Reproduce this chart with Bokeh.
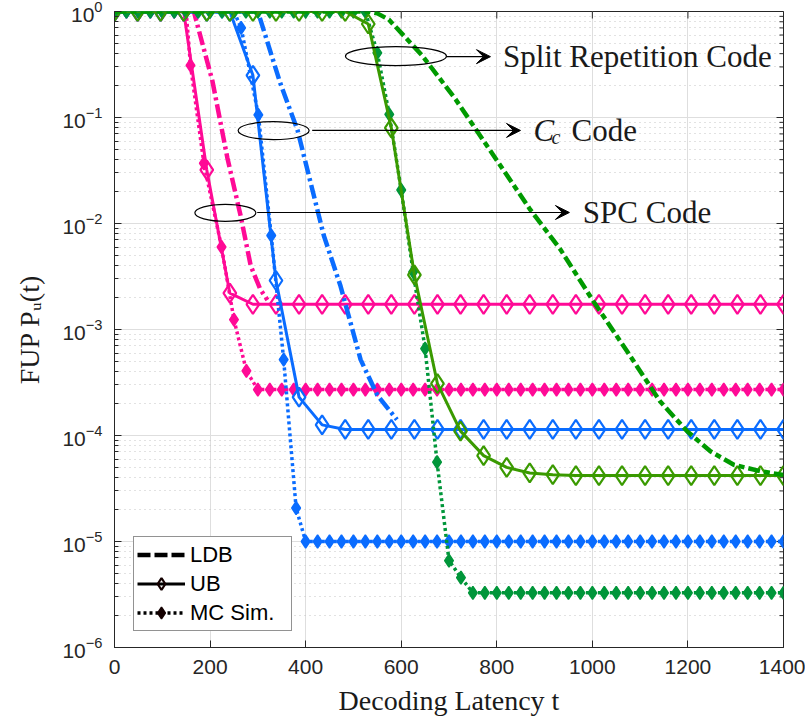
import numpy as np
from bokeh.plotting import figure
from bokeh.models import (Range1d, FixedTicker, LogTickFormatter,
                          Arrow, VeeHead, Legend, LegendItem)
from bokeh.core.properties import value
from bokeh.embed import file_html
from bokeh.resources import INLINE

# ---------------- data ----------------
# Upper bound (UB): evaluated on 30 latency points between 0 and 1400
ub_t = np.linspace(0, 1400, 30)
pink_ub = [1.0] * 4 + [0.032, 2.2e-3] + [1.73e-3] * 24
blue_ub = [1.0] * 6 + [0.25, 2.9e-3, 2.3e-4, 1.26e-4] + [1.14e-4] * 20
green_ub = ([1.0] * 11
            + [0.762, 0.0798, 3.27e-3, 3.08e-4, 1.10e-4, 6.46e-5, 5.0e-5, 4.43e-5, 4.27e-5]
            + [4.19e-5] * 10)

# Monte Carlo simulation (MC Sim.)
pink_mc_t = [0, 25, 50, 75, 100, 125, 150, 159, 187, 224, 250, 276] + list(range(300, 1401, 25))
pink_mc = [1.0] * 7 + [0.31, 0.037, 6.0e-3, 1.24e-3, 4.07e-4] + [2.71e-4] * 45
blue_mc_t = list(range(0, 251, 25)) + [265, 301, 328, 354, 380] + list(range(400, 1401, 25))
blue_mc = [1.0] * 11 + [0.70, 0.106, 7.7e-3, 5.2e-4, 2.07e-5] + [1.0e-5] * 41
green_mc_t = list(range(0, 1401, 25))
green_mc = ([1.0] * 22
            + [0.407, 0.107, 0.0207, 3.5e-3, 6.6e-4, 5.6e-5, 6.6e-6, 4.57e-6]
            + [3.28e-6] * 27)

# Lower decoding bound (LDB)
pink_ldb_t = [0, 166, 205, 236, 264, 285, 305, 320]
pink_ldb = [1.0, 1.0, 0.22, 0.042, 0.0118, 4.0e-3, 2.4e-3, 1.9e-3]
blue_ldb_t = [0, 300, 347, 383, 438, 473, 515, 550, 591]
blue_ldb = [1.0, 1.0, 0.21, 0.076, 7.7e-3, 2.57e-3, 5.2e-4, 2.4e-4, 1.41e-4]
green_ldb_t = [0, 530, 550, 574, 644, 714, 773, 870, 933, 1003, 1073, 1142, 1198,
               1247, 1296, 1352, 1400]
green_ldb = [1.0, 1.0, 0.96, 0.84, 0.384, 0.148, 0.0598, 0.0135, 5.7e-3, 1.82e-3,
             6.2e-4, 2.09e-4, 1.1e-4, 7.1e-5, 5.3e-5, 4.6e-5, 4.25e-5]

x_ticks = [0, 200, 400, 600, 800, 1000, 1200, 1400]
y_ticks = [1e-6, 1e-5, 1e-4, 1e-3, 1e-2, 1e-1, 1.0]
y_minor = [m * 10.0 ** e for e in range(-6, 0) for m in range(2, 10)]

# ---------------- styles ----------------
PINK = "#ff0a96"
BLUE = "#0a6cff"
GREEN_UB = "#3a9a00"
GREEN_LDB = "#009a00"
GREEN_MC = "#00963a"
AX = "#262626"

p = figure(width=805, height=727, x_range=Range1d(0, 1400), y_range=Range1d(1e-6, 1.0),
           y_axis_type="log", output_backend="svg", toolbar_location=None,
           min_border_left=114, min_border_right=22, min_border_top=11, min_border_bottom=80)
p.outline_line_color = AX
p.outline_line_width = 1
p.background_fill_color = "white"
p.border_fill_color = "white"

# bottom / left axes
xa = p.xaxis[0]
ya = p.yaxis[0]
xa.ticker = FixedTicker(ticks=x_ticks)
ya.ticker = FixedTicker(ticks=y_ticks, minor_ticks=y_minor)
ya.formatter = LogTickFormatter()
for ax in (xa, ya):
    ax.axis_line_color = AX
    ax.major_tick_line_color = AX
    ax.minor_tick_line_color = AX
    ax.major_tick_in = 7
    ax.major_tick_out = 0
    ax.minor_tick_in = 4
    ax.minor_tick_out = 0
    ax.major_label_text_font = "Liberation Sans"
    ax.major_label_text_font_size = "21px"
    ax.major_label_text_color = AX
    ax.axis_label_text_font = "Liberation Serif"
    ax.axis_label_text_font_size = "28px"
    ax.axis_label_text_font_style = "normal"
    ax.axis_label_text_color = "#1a1a1a"
xa.minor_tick_line_color = None
xa.major_label_standoff = 12
ya.major_label_standoff = 12
xa.axis_label = "Decoding Latency t"
ya.axis_label = "FUP P\u1d64(t)"
xa.axis_label_standoff = 8
ya.axis_label_standoff = 14

# inward tick marks on the top and right edges of the box
p.scatter(x_ticks, [1.0] * len(x_ticks), marker="dash", angle=np.pi / 2, size=14,
          line_color=AX, line_width=1)
p.scatter([1400] * len(y_ticks), y_ticks, marker="dash", size=14, line_color=AX, line_width=1)
p.scatter([1400] * len(y_minor), y_minor, marker="dash", size=8, line_color=AX, line_width=1)

# grid
p.xgrid.ticker = FixedTicker(ticks=x_ticks)
p.xgrid.grid_line_color = "#dedede"
p.ygrid.ticker = FixedTicker(ticks=y_ticks, minor_ticks=y_minor)
p.ygrid.grid_line_color = "#dedede"
p.ygrid.minor_grid_line_color = "#c4c4c4"
p.ygrid.minor_grid_line_dash = "1 4"

# ---------------- curves ----------------
def draw_family(color_mc, color_ub, color_ldb, mc_t, mc, ub, ldb_t, ldb, ldb_dash):
    p.line(mc_t, mc, line_color=color_mc, line_width=3.5, line_dash="3 3")
    p.scatter(mc_t, mc, marker="diamond", size=13, fill_color=color_mc,
              line_color=color_mc, line_width=1.5)
    p.line(ub_t, ub, line_color=color_ub, line_width=3)
    p.scatter(ub_t, ub, marker="diamond", size=19, fill_color=None,
              line_color=color_ub, line_width=2.2)
    p.line(ldb_t, ldb, line_color=color_ldb, line_width=4.5, line_dash=ldb_dash)

draw_family(PINK, PINK, PINK, pink_mc_t, pink_mc, pink_ub, pink_ldb_t, pink_ldb, "14 4 3 4")
draw_family(BLUE, BLUE, BLUE, blue_mc_t, blue_mc, blue_ub, blue_ldb_t, blue_ldb, "14 4 3 4")
draw_family(GREEN_MC, GREEN_UB, GREEN_LDB, green_mc_t, green_mc, green_ub,
            green_ldb_t, green_ldb, "12 4 6 4")

# ---------------- code annotations ----------------
p.ellipse(x=[589, 333, 232], y=[0.379, 0.0752, 0.0126], width=[101, 71, 61],
          height=[19, 18, 17], width_units="screen", height_units="screen",
          fill_color=None, line_color="black", line_width=1.2)

for xs, xe, yy in [(694.7, 786.8, 0.375), (413.7, 849.6, 0.0755), (298.6, 952.0, 0.0127)]:
    p.add_layout(Arrow(end=VeeHead(size=14, fill_color="black", line_color="black"),
                       x_start=xs, y_start=yy, x_end=xe, y_end=yy,
                       line_color="black", line_width=1.2))

serif = value("Liberation Serif")
p.text(x=[813], y=[0.38], text=["Split Repetition Code"], text_font=serif,
       text_font_size="31px", text_baseline="middle", text_align="left", text_color="#1a1a1a")
p.text(x=[980], y=[0.0127], text=["SPC Code"], text_font=serif,
       text_font_size="31px", text_baseline="middle", text_align="left", text_color="#1a1a1a")
p.text(x=[877], y=[0.0755], text=["C"], text_font=serif, text_font_style="italic",
       text_font_size="31px", text_baseline="middle", text_align="left", text_color="#1a1a1a")
p.text(x=[877], y=[0.0755], text=["c"], text_font=serif, text_font_style="italic",
       x_offset=18, y_offset=7, text_font_size="20px", text_baseline="middle",
       text_align="left", text_color="#1a1a1a")
p.text(x=[877], y=[0.0755], text=["Code"], text_font=serif, x_offset=38,
       text_font_size="31px", text_baseline="middle", text_align="left", text_color="#1a1a1a")

# ---------------- legend (black proxies kept outside the visible ranges) ----------------
K = "#140000"
px, py = [-100], [1e-9]
leg_ldb = p.line(px * 2, py * 2, line_color="black", line_width=4.5, line_dash="13 4")
leg_ub_l = p.line(px * 2, py * 2, line_color="black", line_width=3)
leg_ub_m = p.scatter(px, py, marker="diamond", size=19, fill_color=None,
                     line_color=K, line_width=2.2)
leg_mc_l = p.line(px * 2, py * 2, line_color="black", line_width=3.5, line_dash="3 3")
leg_mc_m = p.scatter(px, py, marker="diamond", size=13, fill_color=K,
                     line_color=K, line_width=1.5)

legend = Legend(items=[LegendItem(label="LDB", renderers=[leg_ldb]),
                       LegendItem(label="UB", renderers=[leg_ub_l, leg_ub_m]),
                       LegendItem(label="MC Sim.", renderers=[leg_mc_l, leg_mc_m])],
                location=(19, 16), padding=3, spacing=0, margin=0,
                glyph_width=48, glyph_height=29, label_height=29, label_width=98,
                label_standoff=5, label_text_font="Liberation Sans",
                label_text_font_size="22px", label_text_color="black",
                border_line_color=AX, border_line_width=1, background_fill_alpha=1.0)
p.add_layout(legend)

open("out.html", "w").write(file_html(p, INLINE))
